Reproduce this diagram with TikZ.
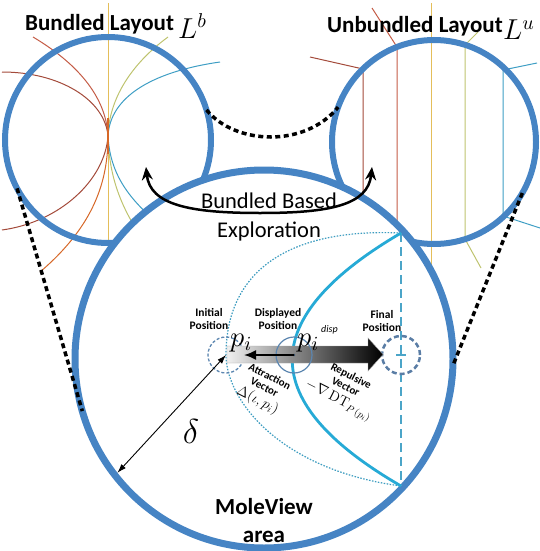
\documentclass[tikz,border=0pt]{standalone}
\usepackage[no-math]{fontspec}
\setmainfont{Carlito}
\usetikzlibrary{arrows.meta}
\definecolor{ringblue}{RGB}{70,132,196}
\definecolor{lbrown}{RGB}{163,74,58}
\definecolor{lred}{RGB}{196,92,70}
\definecolor{lorange}{RGB}{214,104,40}
\definecolor{lyellow}{RGB}{228,190,90}
\definecolor{lygreen}{RGB}{190,195,110}
\definecolor{lteal}{RGB}{62,158,196}
\definecolor{cyanline}{RGB}{38,170,214}
\definecolor{dotline}{RGB}{60,156,192}
\definecolor{dashc}{RGB}{75,165,200}
\definecolor{posblue}{RGB}{92,134,176}
\definecolor{finblue}{RGB}{90,125,165}
\newcommand{\dblmath}[2]{{\fontsize{#1}{#1}\selectfont\scalebox{2}{$#2$}}}
\begin{document}
\begin{tikzpicture}[x=1pt,y=-1pt,
  ring/.style={circle,draw=ringblue,outer sep=0pt,inner sep=0pt},
  thinline/.style={line width=1pt},
  bdash/.style={line width=3.5pt,dash pattern=on 5pt off 3.5pt},
  poslbl/.style={font=\fontsize{11.5}{13}\selectfont\bfseries,align=center,inner sep=0pt},
  veclbl/.style={font=\fontsize{11}{12}\selectfont\bfseries,align=center,inner sep=0pt,rotate=-27},
  toplbl/.style={anchor=base west,inner sep=0pt,font=\fontsize{23}{23}\selectfont\bfseries},
  bigmath/.style={anchor=base west,inner sep=0pt},
]
\useasboundingbox (0,0) rectangle (540,551);

% bundled layout lines
\draw[thinline,lyellow] (108,3) -- (108,255);
\draw[thinline,lred] (33,37) .. controls (75,62) and (106,95) .. (108,136);
\draw[thinline,lbrown] (2,72) .. controls (60,72) and (105,100) .. (108,136);
\draw[thinline,lygreen] (168,37) .. controls (130,65) and (109,100) .. (108,136);
\draw[thinline,lteal] (220,62) .. controls (150,72) and (110,98) .. (108,136);
\draw[thinline,lorange] (108,136) .. controls (108,180) and (95,225) .. (40,272);
\draw[thinline,lbrown] (108,136) .. controls (105,180) and (60,222) .. (2,230);
\draw[thinline,lygreen] (108,136) .. controls (109,175) and (120,205) .. (140,235);
\draw[thinline,lteal] (108,136) .. controls (110,175) and (130,200) .. (160,225);
\draw[line width=1.6pt,lorange] (108,118) -- (108,154);

% unbundled layout lines
\draw[thinline,lbrown] (310,57) -- (363,69) -- (363,205);
\draw[thinline,lred] (372,8) -- (397,47) -- (397,235);
\draw[thinline,lyellow] (431,3) -- (431,275);
\draw[thinline,lygreen] (478,32) -- (465,45) -- (465,239) -- (481,268);
\draw[thinline,lteal] (537,63) -- (503,70) -- (503,216) -- (540,228);

% small circles
\node[ring,line width=6pt,minimum size=206pt] (lc) at (108,140) {};
\node[ring,line width=6pt,minimum size=204pt] (rc) at (434,142) {};

% big circle
\node[ring,line width=7pt,fill=white,minimum size=378pt] (mc) at (264,359) {};

% black dashed connectors
\draw[bdash] (lc.208) -- (mc.196);
\draw[bdash] (rc.-30) -- (mc.-2);
\draw[bdash] (lc.17) .. controls (235,145) and (305,148) .. (rc.160);

% inner curves
\coordinate (ct) at (401,233);
\coordinate (cb) at (401,486);
\draw[dashc,line width=1.8pt,dash pattern=on 9pt off 5pt] (ct) -- (cb);
\draw[dotline,line width=1.2pt,dash pattern=on 1.5pt off 1.5pt] (ct) .. controls (290,228) and (226,270) .. (226,355) .. controls (226,400) and (280,470) .. (cb);
\draw[cyanline,line width=2.8pt] (ct) .. controls (256,318) and (256,402) .. (cb);

% positions
\node[ring,draw=posblue,line width=1.3pt,dash pattern=on 3pt off 2pt,minimum size=36pt] (ini) at (226,355) {};
\node[ring,draw=finblue,line width=2.5pt,dash pattern=on 5pt off 3pt,minimum size=38pt] (fin) at (401,355) {};
\draw[dashc,line width=1.5pt] ([xshift=-5pt]fin.center) -- ([xshift=5pt]fin.center);

% gradient arrow
\shade[left color=black!6,right color=black,draw=black!35,line width=0.4pt]
  (227,346) -- (368,346) -- (368,338) -- (383,354.5) -- (368,371) -- (368,363) -- (227,363) -- cycle;

\node[ring,draw=posblue,line width=1.2pt,minimum size=36pt] (dis) at (294,355) {};
\fill[posblue!60!black] (dis.center) circle (1.3);

% attraction arrow and delta
\draw[line width=1.8pt,-{Latex[length=12pt,width=10pt]}] (dis.center) -- (ini.east);
\draw[line width=0.9pt,{Latex[length=9pt,width=6pt]}-{Latex[length=9pt,width=6pt]},shorten >=3.5pt] (ini.center) -- (mc.218);

% labels
\node[poslbl] (initlbl) at (209,319) {Initial\\Position};
\node[poslbl] (displbl) at (278,319) {Displayed\\Position};
\node[poslbl] (finlbl) at (382,321) {Final\\Position};
\node[bigmath] (pini) at (230,346) {\dblmath{14.4}{p_i}};
\node[bigmath] (pdis) at (297,346) {\dblmath{14.4}{p_i}};
\node[anchor=base west,inner sep=0pt,font=\fontsize{10}{10}\selectfont\itshape] (pdisp) at (321,332) {disp};
\node[veclbl] (attlbl) at (263,390) {Attraction\\Vector\\[3pt]{\fontsize{14.4}{15}\selectfont$\Delta(\iota,p_i)$}};
\node[veclbl] (replbl) at (344,390) {Repulsive\\Vector\\[3pt]{\fontsize{14.4}{15}\selectfont$-\nabla\,\mathrm{DT}_{P\,(p_i)}$}};
\node[inner sep=0pt] (dl) at (191,431) {\dblmath{17.28}{\delta}};
\node[font=\fontsize{23}{28}\selectfont\bfseries,align=center,inner sep=0pt] (mv) at (264,521) {MoleView\\area};

% top labels
\node[toplbl] (blt) at (25,31) {Bundled Layout};
\node[bigmath] (lb) at (178,38) {\dblmath{14.4}{L^b}};
\node[toplbl] (ult) at (327,33) {Unbundled Layout};
\node[bigmath] (lu) at (503,40) {\dblmath{14.4}{L^u}};

% exploration arrow
\coordinate (al) at (146,167);
\coordinate (ar) at (372,167);
\draw[line width=2.5pt,{Stealth[length=13pt,width=11pt]}-{Stealth[length=13pt,width=11pt]}]
  (al) .. controls (150,205) and (190,213) .. (260,213) .. controls (330,213) and (368,205) .. (ar);
\node[font=\fontsize{22.5}{29}\selectfont,align=center,inner sep=0pt] (bbe) at (269,217) {Bundled Based\\Exploration};
\end{tikzpicture}
\end{document}
